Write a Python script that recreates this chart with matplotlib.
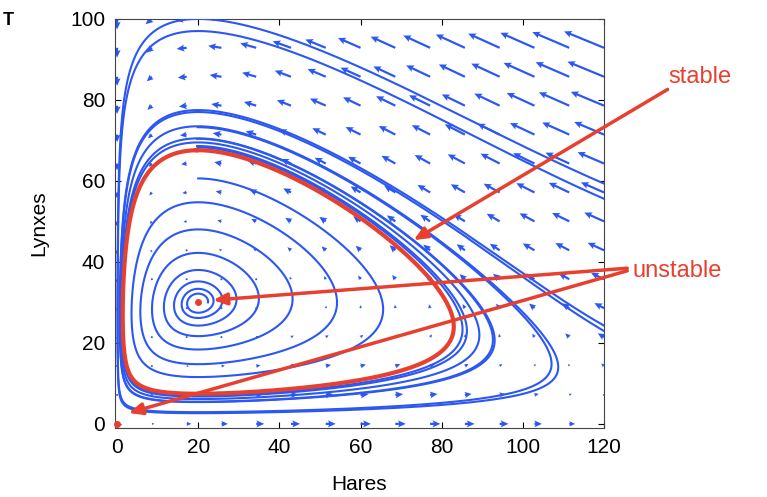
import numpy as np
import matplotlib
matplotlib.use("Agg")
import matplotlib.pyplot as plt

plt.rcParams['font.family'] = ['Liberation Sans', 'DejaVu Sans']

# ---- model parameters (Rosenzweig-MacArthur: hares x / lynxes y) ----
K = 134.0      # hare carrying capacity
b = 60.0       # half-saturation
d = 0.34       # lynx death rate
x_star, y_star = 20.0, 30.0   # unstable equilibrium
a = (1 - x_star / K) * (b + x_star) / y_star   # attack rate (puts equilibrium at y_star)
e = d * (b + x_star) / (a * x_star)            # conversion efficiency (puts equilibrium at x_star)

# outer trajectories: lynx peak read at hares = 20, number of loops drawn after it
outer_peak = [97.0, 77.0, 70.5, 69.5]
outer_loops = [1, 1, 1, 1]
# inner trajectory: start offset from the equilibrium, loops drawn
inner_start = [2.4, 0.0]
inner_loops = 8

# quiver grid
qx = np.linspace(0, 120, 15)
qy = np.linspace(0, 100, 15)

x_ticks = [0, 20, 40, 60, 80, 100, 120]
y_ticks = [0, 20, 40, 60, 80, 100]

BLUE = '#2b57f2'
RED = '#e8402f'


def field(x, y):
    g = a * x / (b + x)
    return x * (1 - x / K) - g * y, e * g * y - d * y


def step(x, y, dt):
    k1 = field(x, y)
    k2 = field(x + dt / 2 * k1[0], y + dt / 2 * k1[1])
    k3 = field(x + dt / 2 * k2[0], y + dt / 2 * k2[1])
    k4 = field(x + dt * k3[0], y + dt * k3[1])
    return (x + dt / 6 * (k1[0] + 2 * k2[0] + 2 * k3[0] + k4[0]),
            y + dt / 6 * (k1[1] + 2 * k2[1] + 2 * k3[1] + k4[1]))


def run_back(x, y, dt=0.02, tmax=200):
    xs, ys = [x], [y]
    for _ in range(int(tmax / dt)):
        x, y = step(x, y, -dt)
        xs.append(x); ys.append(y)
        if x > 125 or y > 105:
            break
    return np.array(xs[::-1]), np.array(ys[::-1])


def run_loops(x, y, loops, dt=0.02, tmax=1e5):
    # integrate forward until the curve has crossed hares = x_star (moving left, above y_star) `loops` times
    xs, ys = [x], [y]
    n = 0
    for _ in range(int(tmax / dt)):
        xn, yn = step(x, y, dt)
        if x > x_star >= xn and yn > y_star:
            n += 1
        x, y = xn, yn
        xs.append(x); ys.append(y)
        if n >= loops:
            break
    return np.array(xs), np.array(ys)


fig = plt.figure(figsize=(7.67, 4.97), dpi=100)
ax = fig.add_axes([0.150, 0.139, 0.6375, 0.823])

# quiver field
QX, QY = np.meshgrid(qx, qy)
U, V = field(QX, QY)
ax.quiver(QX, QY, U, V, color=BLUE, angles='xy', scale_units='xy', scale=13,
          width=0.0045, headwidth=3.2, headlength=3.5, headaxislength=3.0, zorder=2)

# outer trajectories
for yp, nl in zip(outer_peak, outer_loops):
    bx, by = run_back(x_star, yp)
    fx, fy = run_loops(x_star, yp, nl)
    ax.plot(np.r_[bx, fx], np.r_[by, fy], color=BLUE, lw=1.5, zorder=3)

# inner trajectory
ix, iy = run_loops(x_star + inner_start[0], y_star + inner_start[1], inner_loops)
ax.plot(ix, iy, color=BLUE, lw=1.5, zorder=3)

# limit cycle (stable): converge first, then draw one full loop
cx, cy = run_loops(x_star + 2.0, y_star, 60)
cx2, cy2 = run_loops(cx[-1], cy[-1], 1)
ax.plot(np.r_[cx2, cx2[:1]], np.r_[cy2, cy2[:1]], color=RED, lw=3, zorder=4)

# equilibria
ax.plot([x_star, 0], [y_star, 0], 'o', color=RED, ms=4, zorder=5, clip_on=False)

ax.set_xlim(-0.5, 120)
ax.set_ylim(-1, 100)
ax.set_xticks(x_ticks)
ax.set_yticks(y_ticks)
ax.tick_params(direction='in', length=4, top=True, right=True, labelsize=15, pad=7)
for s in ax.spines.values():
    s.set_color('#444444')
ax.set_xlabel('Hares', fontsize=15, labelpad=13)
ax.set_ylabel('Lynxes', fontsize=15, labelpad=16)

# annotations
fig.text(668 / 767, 1 - 77 / 497, 'stable', color=RED, fontsize=17, va='center', ha='left')
fig.text(632 / 767, 1 - 271 / 497, 'unstable', color=RED, fontsize=17, va='center', ha='left')
akw = dict(arrowstyle='-|>,head_length=0.8,head_width=0.35', color=RED, lw=2.5)
ax.annotate('', xy=(72.5, 45), xycoords='data', xytext=(670 / 767, 1 - 88 / 497),
            textcoords='figure fraction', arrowprops=akw, annotation_clip=False, zorder=6)
ax.annotate('', xy=(23, 30.5), xycoords='data', xytext=(630 / 767, 1 - 268 / 497),
            textcoords='figure fraction', arrowprops=akw, annotation_clip=False, zorder=6)
ax.annotate('', xy=(2.2, 2.5), xycoords='data', xytext=(630 / 767, 1 - 270 / 497),
            textcoords='figure fraction', arrowprops=akw, annotation_clip=False, zorder=6)

# small glyph at the top-left corner of the original
fig.text(0.003, 0.975, 'T', fontsize=13, fontweight='bold', va='top', ha='left')

fig.savefig('out.png', dpi=100)
